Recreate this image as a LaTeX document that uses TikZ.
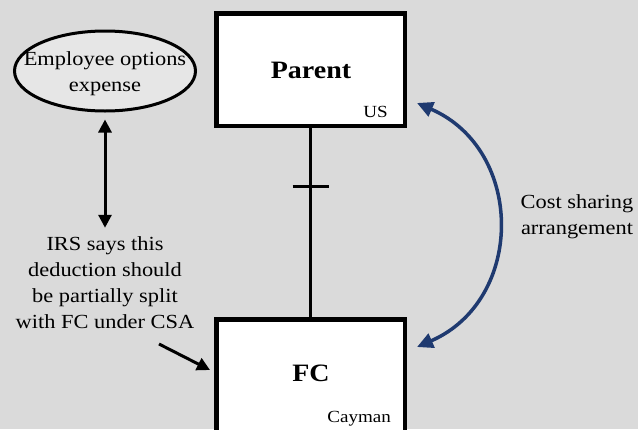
\documentclass[tikz,border=0pt]{standalone}
\usepackage{fontspec}
\setmainfont[FakeStretch=1.12]{Liberation Serif}
\usetikzlibrary{arrows.meta,shapes.geometric}

\definecolor{canvas}{RGB}{218,218,218}
\definecolor{bubble}{RGB}{230,230,230}
\definecolor{csablue}{RGB}{31,58,112}

\tikzset{
  entity/.style={draw=black, line width=4.5pt, fill=white, inner sep=0pt,
                 minimum width=188.5pt},
  title/.style={font=\fontsize{25}{30}\selectfont\bfseries},
  place/.style={font=\fontsize{17}{20}\selectfont, inner sep=0pt},
  note/.style={font=\fontsize{20}{26}\selectfont, align=center, inner sep=0pt},
  bubblebox/.style={ellipse, draw=black, line width=3pt, fill=bubble,
                    minimum width=181pt, minimum height=80pt, inner sep=0pt},
  blackarrow/.style={line width=3pt, -{Triangle[length=13pt,width=13pt]}},
  bothways/.style={line width=3pt, {Triangle[length=13pt,width=13pt]}-{Triangle[length=13pt,width=13pt]}},
  csaarrow/.style={draw=csablue, line width=3.5pt,
                   {Triangle[length=16pt,width=15pt]}-{Triangle[length=16pt,width=15pt]}},
  owns/.style={line width=2.5pt},
}

\begin{document}
\begin{tikzpicture}[x=1pt,y=-1pt]
  \useasboundingbox (0,0) rectangle (638,429);
  \clip (0,0) rectangle (638,429);
  \fill[canvas] (0,0) rectangle (638,429);

  % entities
  \node[entity, minimum height=112.5pt] (parent) at (310.5,69.5) {};
  \node[title] (parentname) at (311,70) {Parent};
  \node[place, anchor=base east] (parentplace) at (388,117) {US};

  \node[entity, minimum height=135.5pt] (fc) at (310.5,387) {};
  \node[title] (fcname) at (311,373) {FC};
  \node[place, anchor=base east] (fcplace) at (391,422) {Cayman};

  % ownership line with tick
  \draw[owns] (parent.south) -- (fc.north) coordinate[pos=0.31] (tickmid);
  \draw[owns] ([xshift=-18pt]tickmid) -- ([xshift=18pt]tickmid);

  % expense bubble and IRS note
  \node[bubblebox] (expense) at (105,71) {};
  \node[note] (expensetext) at (105,74) {Employee options\\expense};
  \node[note] (irs) at (105,283) {IRS says this\\deduction should\\be partially split\\with FC under CSA};
  \draw[bothways, shorten <=7pt, shorten >=9pt] (expense.south) -- (irs.north);

  \coordinate (splitstart) at (159,344);
  \draw[blackarrow] (splitstart) -- ([shift={(-4,53)}]fc.north west);

  % cost sharing arrangement
  \draw[csaarrow] ([shift={(10,-25)}]parent.south east)
    .. controls +(108,47) and +(108,-47) .. ([shift={(10,30)}]fc.north east);
  \node[note] (csa) at (577,217) {Cost sharing\\arrangement};
\end{tikzpicture}
\end{document}
